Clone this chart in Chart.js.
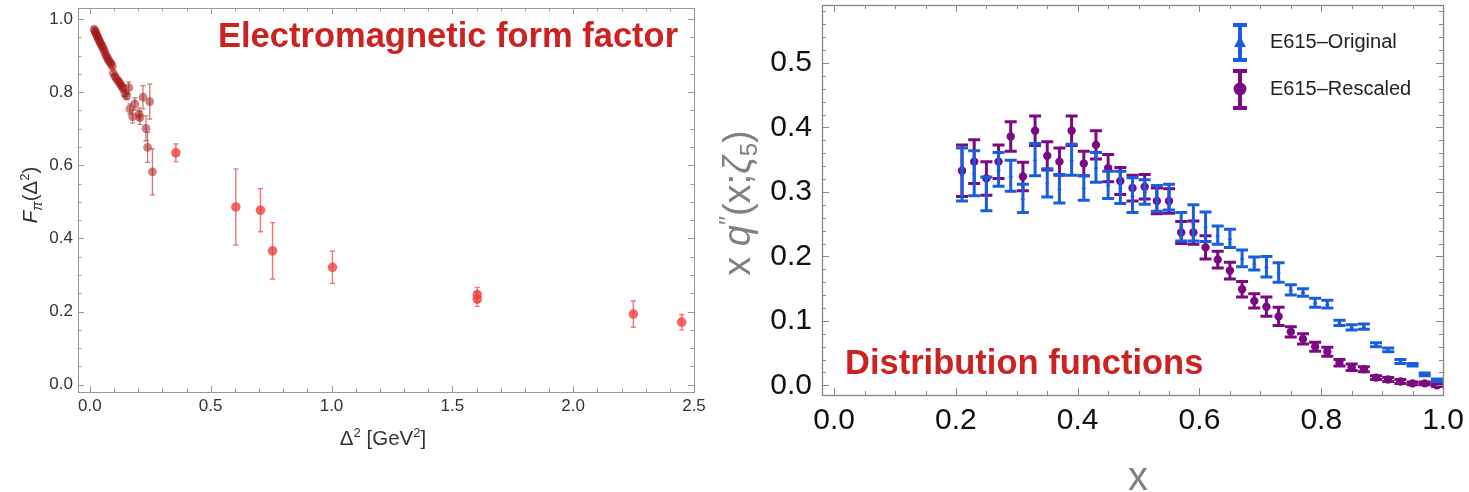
<!DOCTYPE html>
<html><head><meta charset="utf-8">
<script src="https://cdn.jsdelivr.net/npm/chart.js@4.4.1/dist/chart.umd.min.js"></script>
<style>
html,body{margin:0;padding:0;background:#fff;}
#wrap{position:relative;width:1469px;height:492px;overflow:hidden;background:#fff;}
canvas{position:absolute;top:0;}
#c1{left:0;}
#c2{left:712px;}
</style></head><body>
<div id="wrap"><canvas id="c1" width="712" height="492"></canvas><canvas id="c2" width="757" height="492"></canvas></div>
<script>
// ---------------- Left panel: pion electromagnetic form factor ----------------
const ffDarkX = [0.018,0.021,0.024,0.027,0.030,0.033,0.036,0.040,0.043,0.047,0.051,0.055,0.060,0.064,0.069,0.073,0.078,0.083,0.088,0.093,0.097,0.104,0.110,0.117,0.122,0.128,0.134,0.138,0.145,0.152,0.161,0.166,0.177,0.186,0.204,0.207,0.220,0.232,0.239,0.248,0.259];
const ffDarkY = [0.972,0.967,0.963,0.958,0.954,0.950,0.945,0.940,0.935,0.930,0.926,0.919,0.913,0.905,0.898,0.893,0.887,0.882,0.877,0.871,0.852,0.843,0.837,0.831,0.826,0.820,0.815,0.809,0.796,0.789,0.812,0.754,0.733,0.768,0.740,0.730,0.786,0.701,0.649,0.774,0.582];
const ffDarkErr = [0.005,0.005,0.005,0.005,0.005,0.005,0.005,0.005,0.005,0.005,0.005,0.005,0.005,0.005,0.005,0.005,0.005,0.005,0.006,0.006,0.006,0.006,0.006,0.006,0.007,0.007,0.007,0.007,0.008,0.008,0.016,0.014,0.018,0.016,0.016,0.018,0.032,0.034,0.041,0.048,0.063];
const ffBrightX = [0.356,0.604,0.706,0.756,1.004,1.603,1.603,2.249,2.449];
const ffBrightY = [0.634,0.486,0.477,0.366,0.321,0.246,0.234,0.193,0.171];
const ffBrightErr = [0.024,0.104,0.059,0.077,0.044,0.020,0.020,0.036,0.021];
const ffXTicks = [0.0,0.5,1.0,1.5,2.0,2.5];
const ffYTicks = [0.0,0.2,0.4,0.6,0.8,1.0];

// ---------------- Right panel: distribution functions ----------------
const pdfX = [0.21,0.23,0.25,0.27,0.29,0.31,0.33,0.35,0.37,0.39,0.41,0.43,0.45,0.47,0.49,0.51,0.53,0.55,0.57,0.59,0.61,0.63,0.65,0.67,0.69,0.71,0.73,0.75,0.77,0.79,0.81,0.83,0.85,0.87,0.89,0.91,0.93,0.95,0.97,0.99];
const origY = [0.327,0.329,0.297,0.335,0.325,0.290,0.350,0.314,0.305,0.350,0.306,0.338,0.311,0.307,0.295,0.300,0.290,0.292,0.246,0.252,0.246,0.233,0.228,0.197,0.189,0.184,0.175,0.148,0.144,0.128,0.126,0.097,0.090,0.091,0.063,0.055,0.037,0.032,0.017,0.008];
const origErr = [0.041,0.035,0.026,0.026,0.024,0.022,0.025,0.022,0.022,0.024,0.019,0.023,0.021,0.025,0.027,0.019,0.020,0.020,0.022,0.028,0.023,0.014,0.014,0.013,0.010,0.016,0.015,0.008,0.006,0.007,0.006,0.004,0.004,0.004,0.003,0.003,0.003,0.002,0.002,0.002];
const rescY = [0.333,0.347,0.321,0.347,0.386,0.324,0.395,0.356,0.347,0.395,0.344,0.373,0.337,0.317,0.306,0.308,0.286,0.286,0.237,0.237,0.214,0.195,0.178,0.149,0.131,0.122,0.107,0.083,0.072,0.060,0.052,0.035,0.028,0.025,0.012,0.009,0.006,0.003,0.003,0.000];
const rescErr = [0.040,0.034,0.026,0.026,0.023,0.022,0.023,0.022,0.021,0.023,0.019,0.022,0.021,0.021,0.020,0.019,0.020,0.019,0.017,0.018,0.018,0.013,0.013,0.012,0.011,0.015,0.014,0.008,0.008,0.007,0.007,0.005,0.005,0.004,0.003,0.003,0.003,0.002,0.002,0.002];
const pdfXTicks = [0.0,0.2,0.4,0.6,0.8,1.0];
const pdfYTicks = [0.0,0.1,0.2,0.3,0.4,0.5];
const legendLabels = ['E615\u2013Original','E615\u2013Rescaled'];

const FONT = '"Liberation Sans", Arial, Helvetica, sans-serif';
const toPts = (xs, ys) => xs.map((x, i) => ({x: x, y: ys[i]}));

// error bars drawn from the chart's own scales, right before each dataset
const errorBarPlugin = {
  id: 'errbars',
  beforeDatasetDraw(chart, args) {
    const ds = chart.data.datasets[args.index];
    if (!ds.errors) return;
    const ys = chart.scales.y, ctx = chart.ctx, cap = ds.cap;
    ctx.save();
    ctx.strokeStyle = ds.errColor; ctx.lineWidth = ds.errWidth; ctx.lineCap = 'butt';
    args.meta.data.forEach((el, i) => {
      const v = ds.data[i].y, e = ds.errors[i];
      const px = el.x, y1 = ys.getPixelForValue(v - e), y2 = ys.getPixelForValue(v + e);
      ctx.beginPath();
      ctx.moveTo(px, y1); ctx.lineTo(px, y2);
      ctx.moveTo(px - cap, y1); ctx.lineTo(px + cap, y1);
      ctx.moveTo(px - cap, y2); ctx.lineTo(px + cap, y2);
      ctx.stroke();
    });
    ctx.restore();
  }
};

// Mathematica-like frame with inward major/minor ticks on all sides
function framePlugin(o) {
  return {
    id: 'frame',
    afterDatasetsDraw(chart) {
      const {ctx, chartArea: a, scales: {x, y}} = chart;
      ctx.save();
      ctx.strokeStyle = o.color; ctx.lineWidth = o.width;
      ctx.strokeRect(Math.round(a.left) + 0.5, Math.round(a.top) + 0.5, Math.round(a.right - a.left), Math.round(a.bottom - a.top));
      ctx.lineWidth = 1;
      const tick = (px, len, vert) => {
        px = Math.round(px) + 0.5;
        ctx.beginPath();
        if (vert) { ctx.moveTo(px, a.bottom); ctx.lineTo(px, a.bottom - len); ctx.moveTo(px, a.top); ctx.lineTo(px, a.top + len); }
        else { ctx.moveTo(a.left, px); ctx.lineTo(a.left + len, px); ctx.moveTo(a.right, px); ctx.lineTo(a.right - len, px); }
        ctx.stroke();
      };
      for (let k = Math.ceil(x.min / o.xMinor - 1e-6); k * o.xMinor <= x.max + 1e-9; k++) {
        const v = k * o.xMinor, major = o.xMajor.some(m => Math.abs(m - v) < 1e-6);
        tick(x.getPixelForValue(v), major ? o.majorLen : o.minorLen, true);
      }
      for (let k = Math.ceil(y.min / o.yMinor - 1e-6); k * o.yMinor <= y.max + 1e-9; k++) {
        const v = k * o.yMinor, major = o.yMajor.some(m => Math.abs(m - v) < 1e-6);
        tick(y.getPixelForValue(v), major ? o.majorLen : o.minorLen, false);
      }
      ctx.restore();
    }
  };
}

function drawRich(ctx, segs, cx, cy, rot, color) {
  ctx.save();
  ctx.translate(cx, cy);
  if (rot) ctx.rotate(-Math.PI / 2);
  ctx.fillStyle = color; ctx.textBaseline = 'alphabetic'; ctx.textAlign = 'left';
  let w = 0;
  segs.forEach(s => { ctx.font = s.f; s.w = ctx.measureText(s.t).width; w += s.w; });
  let xx = -w / 2;
  segs.forEach(s => { ctx.font = s.f; ctx.fillText(s.t, xx, s.dy || 0); xx += s.w; });
  ctx.restore();
}

const linScale = (min, max, ticks, fontSize, color, pad, fit, horiz) => ({
  type: 'linear', min: min, max: max,
  grid: {display: false, drawTicks: false},
  border: {display: false},
  ticks: {autoSkip: false, maxRotation: 0, padding: pad, color: color, font: {size: fontSize, family: FONT}, callback: v => Number(v).toFixed(1)},
  afterBuildTicks: s => { s.ticks = ticks.map(v => ({value: v})); },
  afterFit: s => {
    if (horiz) s.height = fit; else s.width = fit;
    s.paddingTop = 0; s.paddingBottom = 0; s.paddingLeft = 0; s.paddingRight = 0;
  }
});

// ---------------- Left chart ----------------
const leftText = {
  id: 'leftText',
  afterDraw(chart) {
    const ctx = chart.ctx;
    ctx.save();
    ctx.font = 'bold 34.5px ' + FONT; ctx.fillStyle = '#cc2222'; ctx.textAlign = 'left'; ctx.textBaseline = 'alphabetic';
    ctx.fillText('Electromagnetic form factor', 218, 47);
    ctx.restore();
    const n = '20.5px ' + FONT, s = '13px ' + FONT;
    drawRich(ctx, [{t: '\u0394', f: n}, {t: '2', f: s, dy: -8}, {t: ' [GeV', f: n}, {t: '2', f: s, dy: -8}, {t: ']', f: n}], 383, 445, false, '#333');
    drawRich(ctx, [{t: 'F', f: 'italic ' + n}, {t: '\u03C0', f: 'italic 14px ' + FONT, dy: 5}, {t: '(\u0394', f: n}, {t: '2', f: s, dy: -8}, {t: ')', f: n}], 37, 195, true, '#333');
  }
};

new Chart(document.getElementById('c1'), {
  type: 'scatter',
  data: {datasets: [
    {data: toPts(ffDarkX, ffDarkY), errors: ffDarkErr, errColor: 'rgba(165,35,35,0.6)', errWidth: 1.3, cap: 2.5,
     backgroundColor: 'rgba(165,25,25,0.55)', borderWidth: 0, pointRadius: 4.4},
    {data: toPts(ffBrightX, ffBrightY), errors: ffBrightErr, errColor: 'rgba(240,70,70,0.75)', errWidth: 1.4, cap: 2.5,
     backgroundColor: 'rgba(242,60,60,0.78)', borderWidth: 0, pointRadius: 4.8}
  ]},
  options: {
    responsive: false, animation: false, devicePixelRatio: 1,
    layout: {padding: {left: 0, right: 18, top: 8, bottom: 0}},
    plugins: {legend: {display: false}, tooltip: {enabled: false}},
    scales: {
      x: linScale(-0.049, 2.5, ffXTicks, 17, '#333', 4, 100, true),
      y: linScale(-0.02, 1.03, ffYTicks, 17, '#333', 5, 78, false)
    }
  },
  plugins: [errorBarPlugin, framePlugin({color: '#999', width: 1, xMinor: 0.1, xMajor: ffXTicks, yMinor: 0.05, yMajor: ffYTicks, majorLen: 6, minorLen: 3.5}), leftText]
});

// ---------------- Right chart ----------------
const OFF = 712;
const rightText = {
  id: 'rightText',
  afterDraw(chart) {
    const ctx = chart.ctx;
    ctx.save();
    ctx.font = 'bold 34.5px ' + FONT; ctx.fillStyle = '#cc2222'; ctx.textAlign = 'left'; ctx.textBaseline = 'alphabetic';
    ctx.fillText('Distribution functions', 845 - OFF, 374);
    ctx.restore();
    const g = '#808080';
    drawRich(ctx, [{t: 'x', f: '40px ' + FONT}], 1138 - OFF, 490, false, g);
    const n = '38px ' + FONT;
    drawRich(ctx, [{t: 'x ', f: n}, {t: 'q', f: 'italic ' + n}, {t: '\u2032\u2032', f: '24px ' + FONT, dy: -14}, {t: '(x;', f: n}, {t: '\u03B6', f: 'italic ' + n}, {t: '5', f: '24px ' + FONT, dy: 7}, {t: ')', f: n}], 750 - OFF, 203, true, g);
    // legend
    const items = [
      {color: '#1a5ee0', y: 42, shape: 'tri', top: 25, bot: 60, label: legendLabels[0]},
      {color: '#7b0a82', y: 89, shape: 'circ', top: 71, bot: 108, label: legendLabels[1]}
    ];
    const lx = 1240 - OFF;
    items.forEach(it => {
      ctx.save();
      ctx.strokeStyle = it.color; ctx.fillStyle = it.color; ctx.lineWidth = 4;
      ctx.beginPath();
      ctx.moveTo(lx, it.top); ctx.lineTo(lx, it.bot);
      ctx.moveTo(lx - 7, it.top); ctx.lineTo(lx + 7, it.top);
      ctx.moveTo(lx - 7, it.bot); ctx.lineTo(lx + 7, it.bot);
      ctx.stroke();
      ctx.beginPath();
      if (it.shape === 'tri') { ctx.moveTo(lx, it.y - 6); ctx.lineTo(lx + 6, it.y + 5); ctx.lineTo(lx - 6, it.y + 5); ctx.closePath(); }
      else { ctx.arc(lx, it.y, 6.5, 0, Math.PI * 2); }
      ctx.fill();
      ctx.fillStyle = '#222'; ctx.font = '20px ' + FONT; ctx.textBaseline = 'middle'; ctx.textAlign = 'left';
      ctx.fillText(it.label, 1270 - OFF, it.y);
      ctx.restore();
    });
  }
};

new Chart(document.getElementById('c2'), {
  type: 'scatter',
  data: {datasets: [
    {data: toPts(pdfX, origY), errors: origErr, errColor: '#1a5ee0', errWidth: 3, cap: 6,
     backgroundColor: '#1a5ee0', borderWidth: 0, pointStyle: 'triangle', pointRadius: 2.6},
    {data: toPts(pdfX, rescY), errors: rescErr, errColor: '#7b0a82', errWidth: 3, cap: 6,
     backgroundColor: '#7b0a82', borderWidth: 0, pointStyle: 'circle', pointRadius: 4.2}
  ]},
  options: {
    responsive: false, animation: false, devicePixelRatio: 1,
    layout: {padding: {left: 0, right: 26, top: 5, bottom: 0}},
    plugins: {legend: {display: false}, tooltip: {enabled: false}},
    scales: {
      x: linScale(-0.02, 1.0, pdfXTicks, 30, '#111', 8, 97, true),
      y: linScale(-0.015, 0.59, pdfYTicks, 30, '#111', 10, 110, false)
    }
  },
  plugins: [errorBarPlugin, framePlugin({color: '#888', width: 1.3, xMinor: 0.05, xMajor: pdfXTicks, yMinor: 0.02, yMajor: pdfYTicks, majorLen: 7, minorLen: 4}), rightText]
});
</script>
</body></html>
